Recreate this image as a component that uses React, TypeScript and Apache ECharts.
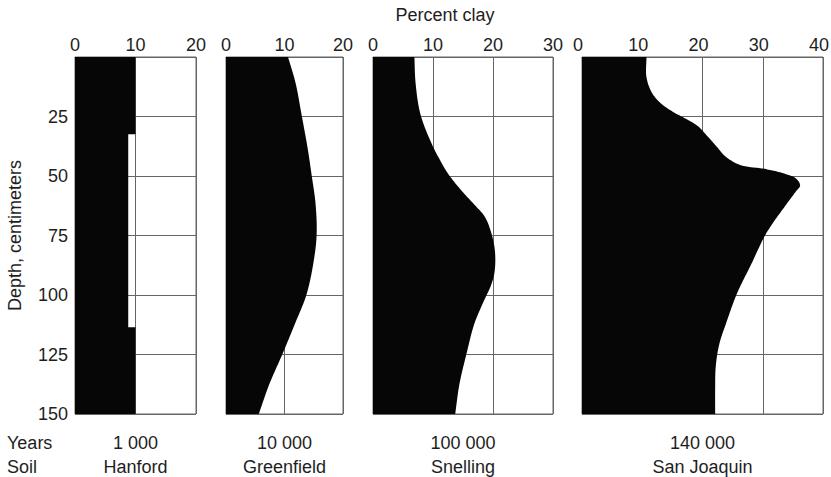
import React, { useEffect, useRef } from "react";
import * as echarts from "echarts";

// ---- data (percent clay vs depth in cm) ----
const soils = ["Hanford", "Greenfield", "Snelling", "San Joaquin"];
const years = ["1 000", "10 000", "100 000", "140 000"];
const clayMax = [20, 20, 30, 40];
const depthTicks = [25, 50, 75, 100, 125, 150];

const hanfordClay = [10, 10, 8.8, 8.8, 10, 10];
const hanfordDepth = [0, 32.5, 32.5, 113.5, 113.5, 150];

const greenfieldClay = [10.6, 11.9, 12.9, 14.0, 14.6, 15.3, 15.5, 15.1, 13.8, 11.8, 9.7, 7.4, 5.6];
const greenfieldDepth = [0, 11, 24, 39, 49, 61.5, 74, 84, 99.5, 112, 124.5, 137.5, 150];

const snellingClay = [6.9, 7.1, 7.9, 9.7, 11.1, 12.5, 14.7, 16.7, 18.6, 19.6, 20.3, 20.3, 19.8, 18.3, 16.9, 15.6, 14.4, 13.7];
const snellingDepth = [0, 11, 24, 36, 43, 49, 56, 61.5, 67, 73, 81, 89.5, 95, 103.5, 112, 124.5, 137.5, 150];

const sanJoaquinClay = [10.7, 10.7, 11.6, 13.1, 15.4, 16.9, 19.2, 20.9, 22.3, 23.9, 26.4, 30.3, 33.6, 35.5, 36.2, 35.5, 33.6, 30.6, 28.1, 25.7, 23.9, 22.8, 22.2, 22.1, 22.1];
const sanJoaquinDepth = [0, 8.5, 15, 19.5, 23.5, 25.5, 29, 33.5, 37.5, 42, 45.5, 47, 49, 51, 54, 56.5, 63, 74, 87, 99.5, 112, 120.5, 130, 140, 150];

const profiles = [
  { clay: hanfordClay, depth: hanfordDepth, smooth: false },
  { clay: greenfieldClay, depth: greenfieldDepth, smooth: true },
  { clay: snellingClay, depth: snellingDepth, smooth: true },
  { clay: sanJoaquinClay, depth: sanJoaquinDepth, smooth: true },
];

// ---- layout / style ----
const TOP = 57;
const HEIGHT = 357;
const panels = [
  { left: 75, width: 121 },
  { left: 226, width: 117 },
  { left: 373, width: 180 },
  { left: 582, width: 241 },
];
const GRID = "#666666";
const TXT = "#1e1e1e";
const FONT = "'Liberation Sans', Arial, Helvetica, sans-serif";
const FILL = "#060606";

type P = number[];

function centripetal(pts: P[], steps: number): P[] {
  const n = pts.length;
  if (n < 3) return pts.slice();
  const ext: P[] = [
    [2 * pts[0][0] - pts[1][0], 2 * pts[0][1] - pts[1][1]],
    ...pts,
    [2 * pts[n - 1][0] - pts[n - 2][0], 2 * pts[n - 1][1] - pts[n - 2][1]],
  ];
  const out: P[] = [];
  const dist = (a: P, b: P) => Math.max(Math.pow(Math.hypot(b[0] - a[0], b[1] - a[1]), 0.5), 1e-4);
  const mix = (a: P, b: P, ta: number, tb: number, t: number): P => {
    const w = (t - ta) / (tb - ta);
    return [a[0] + (b[0] - a[0]) * w, a[1] + (b[1] - a[1]) * w];
  };
  for (let i = 1; i < ext.length - 2; i++) {
    const p0 = ext[i - 1], p1 = ext[i], p2 = ext[i + 1], p3 = ext[i + 2];
    const t0 = 0;
    const t1 = t0 + dist(p0, p1);
    const t2 = t1 + dist(p1, p2);
    const t3 = t2 + dist(p2, p3);
    for (let k = 0; k < steps; k++) {
      const t = t1 + ((t2 - t1) * k) / steps;
      const a1 = mix(p0, p1, t0, t1, t);
      const a2 = mix(p1, p2, t1, t2, t);
      const a3 = mix(p2, p3, t2, t3, t);
      const b1 = mix(a1, a2, t0, t2, t);
      const b2 = mix(a2, a3, t1, t3, t);
      out.push(mix(b1, b2, t1, t2, t));
    }
  }
  out.push(pts[n - 1]);
  return out;
}

function makeRender(clay: number[], depth: number[], smooth: boolean) {
  return (params: any, api: any) => {
    if (params.dataIndex !== 0) return null;
    const pts: P[] = clay.map((v, i) => api.coord([v, depth[i]]));
    const curve = smooth ? centripetal(pts, 16) : pts;
    const topLeft = api.coord([0, depth[0]]);
    const botLeft = api.coord([0, depth[depth.length - 1]]);
    return {
      type: "polygon",
      shape: { points: [topLeft, ...curve, botLeft] },
      style: { fill: FILL, stroke: null },
    };
  };
}

export default function App() {
  const ref = useRef<HTMLDivElement>(null);
  useEffect(() => {
    if (!ref.current) return;
    const chart = echarts.init(ref.current, null, { renderer: "svg" });

    const grid = panels.map((p) => ({
      left: p.left,
      width: p.width,
      top: TOP,
      height: HEIGHT,
      show: true,
      borderColor: GRID,
      borderWidth: 1,
      backgroundColor: "transparent",
      containLabel: false,
      outerBoundsMode: "none",
    }));

    const xAxis = panels.map((_, i) => ({
      gridIndex: i,
      type: "value",
      position: "top",
      min: 0,
      max: clayMax[i],
      interval: 10,
      axisLine: { show: true, lineStyle: { color: GRID, width: 1 } },
      axisTick: { show: false },
      axisLabel: {
        margin: 3,
        fontSize: 18,
        color: TXT,
        fontFamily: FONT,
        padding: i === panels.length - 1 ? [0, 8, 0, 0] : 0,
      },
      splitLine: { show: true, lineStyle: { color: GRID, width: 1 } },
    }));

    const yAxis = panels.map((_, i) => ({
      gridIndex: i,
      type: "value",
      inverse: true,
      min: 0,
      max: depthTicks[depthTicks.length - 1],
      interval: 25,
      axisLine: { show: false },
      axisTick: { show: false },
      axisLabel: {
        show: i === 0,
        margin: 7,
        fontSize: 18,
        color: TXT,
        fontFamily: FONT,
        formatter: (v: number) => (depthTicks.indexOf(v) >= 0 ? String(v) : ""),
      },
      splitLine: { show: true, lineStyle: { color: GRID, width: 1 } },
    }));

    const series = profiles.map((pr, i) => ({
      type: "custom",
      xAxisIndex: i,
      yAxisIndex: i,
      clip: true,
      silent: true,
      z: 5,
      data: pr.depth.map((d, j) => [pr.clay[j], d]),
      renderItem: makeRender(pr.clay, pr.depth, pr.smooth),
    }));

    const textStyle = (text: string, x: number, y: number, align = "center") => ({
      type: "text",
      x,
      y,
      silent: true,
      style: {
        text,
        textAlign: align,
        textVerticalAlign: "middle",
        fontSize: 18,
        fontFamily: FONT,
        fill: TXT,
      },
    });

    const graphic: any[] = [
      textStyle("Percent clay", 445, 15),
      {
        type: "text",
        x: 15,
        y: TOP + HEIGHT / 2,
        rotation: Math.PI / 2,
        silent: true,
        style: {
          text: "Depth, centimeters",
          textAlign: "center",
          textVerticalAlign: "middle",
          fontSize: 18,
          fontFamily: FONT,
          fill: TXT,
        },
      },
      textStyle("Years", 7, 443, "left"),
      textStyle("Soil", 7, 467, "left"),
    ];
    panels.forEach((p, i) => {
      const cx = p.left + p.width / 2;
      graphic.push(textStyle(years[i], cx, 443));
      graphic.push(textStyle(soils[i], cx, 467));
    });

    chart.setOption({
      animation: false,
      backgroundColor: "#ffffff",
      textStyle: { fontFamily: FONT },
      grid,
      xAxis,
      yAxis,
      series,
      graphic,
    });

    return () => chart.dispose();
  }, []);

  return (
    <div
      ref={ref}
      style={{ position: "fixed", left: 0, top: 0, width: "831px", height: "477px" }}
    />
  );
}
